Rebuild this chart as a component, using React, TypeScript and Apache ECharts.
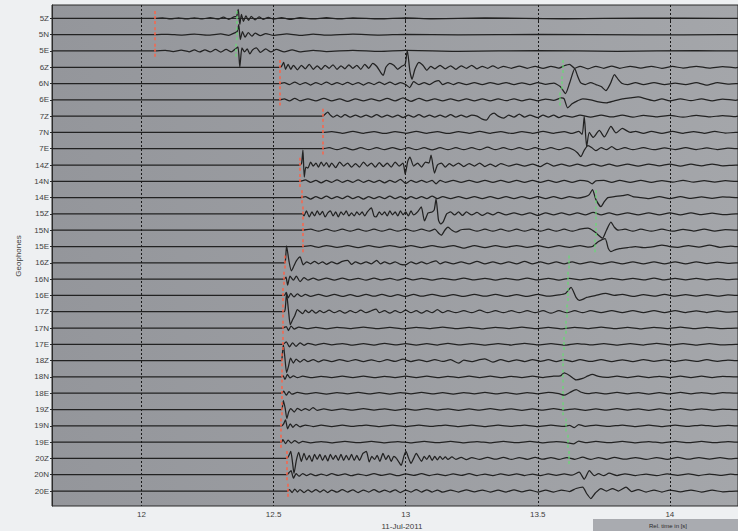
import React, { useEffect, useRef } from "react";
import * as echarts from "echarts";

const rowNames = ["5Z","5N","5E","6Z","6N","6E","7Z","7N","7E","14Z","14N","14E","15Z","15N","15E","16Z","16N","16E","17Z","17N","17E","18Z","18N","18E","19Z","19N","19E","20Z","20N","20E"];
const xTicks = [12, 12.5, 13, 13.5, 14];
const dateLabel = "11-Jul-2011";
const timeLabel = "Rel. time in [s]";
const yTitle = "Geophones";

const tr5Z = [[12.05,0],[12.08,0.5],[12.11,-0.5],[12.14,0.5],[12.17,-0.5],[12.2,0.6],[12.23,-0.6],[12.26,0.8],[12.29,-0.8],[12.31,1.2],[12.33,-1],[12.35,1.5],[12.36,2],[12.366,9],[12.372,-6],[12.378,4],[12.386,-3],[12.395,2.5],[12.405,-2],[12.415,2],[12.43,-1.5],[12.445,1.5],[12.46,-1],[12.48,1],[12.5,-0.8],[12.53,0.8],[12.56,-1],[12.6,0.7],[12.65,-0.6],[12.7,0.8],[12.75,-0.6],[12.8,0.5],[12.9,-0.5],[13.0,0.5],[13.1,-0.4],[13.3,0.4],[13.6,-0.4],[13.9,0.3],[14.2,0]];
const tr5N = [[12.05,0],[12.1,0.4],[12.15,-0.4],[12.2,0.5],[12.25,-0.5],[12.3,0.8],[12.33,-0.6],[12.35,1.5],[12.362,3],[12.368,10],[12.374,-5],[12.382,3],[12.392,-2.5],[12.404,2],[12.418,-1.5],[12.43,1.5],[12.45,-1],[12.47,1],[12.5,-0.7],[12.55,0.7],[12.6,-0.8],[12.65,0.6],[12.7,-0.5],[12.8,0.5],[12.9,-0.4],[13.0,0.4],[13.2,-0.3],[13.5,0.3],[13.9,-0.3],[14.2,0]];
const tr5E = [[12.05,0],[12.09,0.6],[12.12,-0.6],[12.15,0.8],[12.18,-0.8],[12.2,1],[12.22,-1],[12.24,1.2],[12.26,-1],[12.28,1.5],[12.3,-1.2],[12.32,1.5],[12.34,-1],[12.355,2],[12.365,4],[12.372,-16],[12.38,3],[12.39,-1],[12.4,2],[12.41,-3],[12.42,1],[12.435,3],[12.45,-1.5],[12.47,2],[12.49,-1],[12.51,1.5],[12.54,-1],[12.57,1],[12.6,-0.8],[12.65,0.7],[12.7,-0.6],[12.8,0.6],[12.9,-0.5],[13.0,0.5],[13.2,-0.4],[13.5,0.4],[13.8,-0.3],[14.1,0.3],[14.25,0]];
const tr6Z = [[12.523,0],[12.53,1],[12.538,5],[12.545,-2],[12.555,3],[12.565,-2],[12.575,2],[12.59,-2.5],[12.605,2],[12.62,-1.5],[12.635,3],[12.65,-2],[12.665,1.5],[12.68,-2],[12.695,2],[12.71,-1],[12.725,2.5],[12.74,-2],[12.755,1.5],[12.77,-1.5],[12.785,2.5],[12.8,-1],[12.815,2],[12.83,-2],[12.845,3],[12.86,-1],[12.875,4],[12.89,1],[12.905,-5],[12.915,-8],[12.925,0],[12.94,4],[12.955,2],[12.97,-2],[12.985,1],[12.998,3],[13.006,17],[13.016,-4],[13.024,-12],[13.035,-2],[13.05,5],[13.065,2],[13.08,-3],[13.095,1],[13.11,-1.5],[13.13,2],[13.15,-1.5],[13.17,1.5],[13.19,-2],[13.21,1.5],[13.23,-1],[13.25,2],[13.27,-1.5],[13.29,1],[13.31,-1],[13.33,1.5],[13.35,-1],[13.37,1],[13.4,-1],[13.43,1.2],[13.46,-1],[13.49,1],[13.52,-1.2],[13.55,1],[13.58,-0.8],[13.6,1.5],[13.62,3],[13.64,-1],[13.66,1],[13.69,-1.5],[13.72,1],[13.75,-1],[13.78,1.2],[13.81,-1],[13.85,1],[13.89,-0.8],[13.93,1],[13.97,-1],[14.01,0.8],[14.05,-0.8],[14.1,1],[14.15,-0.8],[14.2,0.6],[14.25,-0.5]];
const tr6N = [[12.523,0],[12.54,1],[12.56,-1],[12.58,1.5],[12.6,-1],[12.62,1],[12.64,-1.5],[12.66,1],[12.68,-1],[12.7,1.5],[12.72,-1],[12.74,1],[12.76,-1],[12.78,1.2],[12.8,-1],[12.82,1],[12.84,-1.5],[12.86,1],[12.88,-1],[12.9,1.5],[12.92,-1],[12.94,1.5],[12.96,-1],[12.98,1],[13.0,-1],[13.015,-4],[13.03,2],[13.05,-1],[13.07,1],[13.09,-1],[13.11,2],[13.125,3],[13.14,-1],[13.16,1],[13.18,-1],[13.2,1],[13.23,-1],[13.26,1],[13.29,-1],[13.32,1],[13.35,-0.8],[13.38,1],[13.41,-1],[13.44,0.8],[13.47,-1],[13.5,1],[13.53,-0.8],[13.56,0.5],[13.585,-3],[13.605,-10],[13.62,0],[13.64,15],[13.65,8],[13.662,1],[13.68,-1],[13.7,1],[13.72,-1],[13.74,-3],[13.758,-7],[13.775,0],[13.79,9],[13.805,4],[13.82,0],[13.84,-1],[13.87,1],[13.9,-1],[13.94,1],[13.98,-1],[14.02,0.5],[14.06,-1],[14.1,1],[14.14,-1.5],[14.18,1],[14.22,-0.5],[14.25,0]];
const tr6E = [[12.523,0],[12.54,1],[12.56,-1],[12.58,1.5],[12.6,-1],[12.63,1],[12.66,-1],[12.69,1.5],[12.72,-1],[12.75,1],[12.78,-1.5],[12.81,1],[12.84,-1],[12.87,1],[12.9,-1],[12.93,1.5],[12.96,-1],[12.99,2],[13.02,-1.5],[13.05,1.5],[13.08,-1],[13.11,1],[13.14,-1],[13.17,1],[13.2,-1],[13.23,1],[13.26,-1],[13.29,1],[13.32,-1],[13.35,1],[13.38,-0.8],[13.41,1],[13.44,-1],[13.47,0.8],[13.5,-1],[13.53,0.8],[13.56,-0.5],[13.59,2],[13.6,1],[13.613,-8],[13.63,-4],[13.65,-1],[13.67,1],[13.7,0],[13.73,-2],[13.76,-3],[13.79,-1],[13.82,1],[13.85,2],[13.88,3],[13.91,1],[13.94,-1],[13.97,1],[14.0,-1],[14.04,1],[14.08,-0.8],[14.12,1],[14.16,-1],[14.2,0.8],[14.25,-0.5]];
const tr7Z = [[12.685,0],[12.695,2],[12.705,4],[12.715,1],[12.725,-1],[12.74,1],[12.755,-1],[12.77,1.5],[12.79,-1],[12.81,1],[12.83,-1],[12.85,1],[12.87,-1],[12.89,1.5],[12.91,-1],[12.93,1],[12.95,-1],[12.97,1],[12.99,-1.5],[13.01,1],[13.03,-1],[13.05,1.5],[13.07,-1],[13.09,1],[13.11,-1],[13.13,1],[13.15,-1],[13.17,1.5],[13.19,-1],[13.21,1],[13.23,-1],[13.25,1],[13.27,0],[13.29,-3],[13.305,-4],[13.32,1],[13.335,3],[13.35,0],[13.37,-2],[13.39,1],[13.41,-1],[13.43,2],[13.45,-1],[13.47,1],[13.5,-1.5],[13.52,1],[13.54,-1],[13.56,1],[13.58,-1.5],[13.6,0.5],[13.63,-1],[13.66,1],[13.7,-1],[13.74,1],[13.78,-0.8],[13.82,1],[13.86,-1],[13.9,0.8],[13.95,-0.8],[14.0,0.8],[14.05,-1],[14.1,0.8],[14.15,-0.8],[14.2,0.6],[14.25,-0.5]];
const tr7N = [[12.685,0],[12.72,0.8],[12.76,-0.8],[12.8,1],[12.84,-0.8],[12.88,0.8],[12.92,-1],[12.96,0.8],[13.0,-0.8],[13.04,1],[13.08,-0.8],[13.12,0.8],[13.16,-1],[13.2,0.8],[13.24,-0.8],[13.28,1],[13.32,-0.8],[13.36,0.8],[13.4,-1],[13.44,0.8],[13.48,-0.8],[13.52,1],[13.56,-0.8],[13.6,0.8],[13.63,-1],[13.655,1],[13.668,-2],[13.676,16],[13.685,-14],[13.695,0],[13.71,-5],[13.733,2],[13.752,-4.5],[13.777,6],[13.796,-0.5],[13.82,4],[13.85,0],[13.87,1],[13.9,-1],[13.93,1],[13.97,-0.8],[14.01,1],[14.05,-0.8],[14.09,0.8],[14.13,-0.8],[14.17,1],[14.21,-0.6],[14.25,0]];
const tr7E = [[12.685,0],[12.71,1],[12.74,-1],[12.77,1],[12.8,-1.2],[12.83,1],[12.86,-1],[12.89,1],[12.92,-1],[12.95,1.2],[12.98,-1],[13.01,1],[13.04,-1],[13.07,1],[13.1,-1.2],[13.13,1],[13.16,-1],[13.19,1],[13.22,-1],[13.25,1],[13.28,-1],[13.31,1.5],[13.34,-1],[13.37,1],[13.4,-1],[13.43,1],[13.46,-1],[13.49,1],[13.52,-1],[13.55,1],[13.58,-1],[13.61,1],[13.635,-1],[13.65,-4],[13.663,-8],[13.675,-2],[13.69,3],[13.705,1],[13.72,-2],[13.74,1],[13.76,-1],[13.78,2],[13.8,-1],[13.83,1],[13.86,-1],[13.9,1],[13.94,-1],[13.98,0.8],[14.02,-0.8],[14.06,1],[14.1,-0.8],[14.14,0.8],[14.18,-0.8],[14.22,0.6],[14.25,0]];
const tr14Z = [[12.6,0],[12.606,2],[12.611,15],[12.616,-12],[12.622,-2],[12.63,-3],[12.64,3],[12.65,-1],[12.66,2],[12.67,-2],[12.68,3],[12.69,-1],[12.7,2.5],[12.71,-2],[12.72,2],[12.735,-2.5],[12.75,3],[12.765,-1],[12.78,2],[12.795,-2],[12.81,1.5],[12.825,-2],[12.84,3],[12.855,-1],[12.87,2],[12.885,-2],[12.9,2.5],[12.915,-1.5],[12.93,2],[12.945,-2],[12.96,3],[12.975,-1],[12.99,2],[12.998,-9],[13.008,4],[13.016,8],[13.03,-1],[13.045,2],[13.06,-2],[13.075,3],[13.088,2],[13.096,10],[13.109,-8],[13.12,0],[13.135,2],[13.15,-2],[13.165,1.5],[13.18,-1],[13.2,2],[13.22,-1.5],[13.24,1.5],[13.26,-1],[13.28,2],[13.3,-1.5],[13.32,1],[13.34,-1.5],[13.36,1.5],[13.39,-1],[13.42,1],[13.45,-1],[13.48,1],[13.51,-1.5],[13.535,2],[13.56,-1],[13.59,1],[13.62,-1],[13.65,1],[13.68,-1.2],[13.71,1],[13.74,-1],[13.77,1],[13.8,-1],[13.84,1],[13.88,-1],[13.92,1],[13.96,-0.8],[14.0,1],[14.04,-1],[14.08,0.8],[14.12,-0.8],[14.16,1],[14.2,-0.8],[14.25,0]];
const tr14N = [[12.6,0],[12.62,1.5],[12.64,-1],[12.66,1],[12.68,-1.5],[12.7,1],[12.72,-1],[12.74,1.5],[12.76,-1],[12.78,1],[12.8,-1],[12.82,1.5],[12.84,-1],[12.86,1],[12.88,-1],[12.9,1],[12.92,-1.5],[12.94,1],[12.96,-1],[12.98,2],[13.0,-2],[13.02,1],[13.04,-1],[13.06,1],[13.08,-1],[13.1,1],[13.115,-2.5],[13.13,1],[13.15,-1],[13.18,1],[13.21,-1],[13.24,1],[13.27,-1],[13.3,1],[13.33,-1],[13.36,1],[13.39,-1],[13.42,1],[13.45,-1],[13.48,1],[13.51,-1],[13.54,1],[13.57,-1],[13.6,1],[13.63,-1],[13.66,1],[13.69,0],[13.706,-2.5],[13.72,0.5],[13.75,1],[13.78,-1],[13.81,1],[13.85,-1],[13.89,1],[13.93,-1],[13.97,0.8],[14.01,-0.8],[14.05,1],[14.09,-0.8],[14.13,0.8],[14.17,-0.8],[14.21,0.6],[14.25,0]];
const tr14E = [[12.6,0],[12.62,1],[12.64,-1.5],[12.66,1],[12.68,-1],[12.7,1.5],[12.72,-1],[12.74,1],[12.76,-1],[12.78,1.5],[12.8,-1],[12.82,1],[12.84,-1.5],[12.86,1],[12.88,-1],[12.9,1],[12.92,-1],[12.94,1.5],[12.96,-1],[12.98,1],[13.0,-1.5],[13.02,1],[13.04,-1],[13.06,1],[13.08,-1],[13.1,1.5],[13.12,-1],[13.14,1],[13.17,-1],[13.2,1],[13.23,-1],[13.26,1],[13.29,-1],[13.32,1],[13.35,-1],[13.38,1],[13.41,-1],[13.44,1],[13.47,-1],[13.5,1],[13.53,-1],[13.56,1],[13.59,-1],[13.62,1],[13.65,-0.5],[13.68,1],[13.695,3],[13.707,8],[13.72,-2],[13.739,-9],[13.752,-4],[13.765,0],[13.79,1],[13.82,2],[13.84,3],[13.86,1],[13.89,0],[13.92,-1],[13.96,1],[14.0,-1],[14.04,1],[14.08,-0.8],[14.12,0.8],[14.16,-0.8],[14.2,0.8],[14.25,0]];
const tr15Z = [[12.61,0],[12.615,-2],[12.624,3],[12.635,-3],[12.645,2],[12.655,-2],[12.665,3],[12.675,-1],[12.685,2.5],[12.695,-3],[12.705,1],[12.715,3],[12.725,-2],[12.735,2],[12.745,-3],[12.755,2],[12.765,-1],[12.775,3],[12.785,-2],[12.795,1],[12.805,-2],[12.815,2],[12.825,-1],[12.835,2],[12.845,-2],[12.855,2],[12.87,6],[12.88,-2],[12.888,-3],[12.9,2],[12.91,-1],[12.92,2],[12.93,-2],[12.94,3],[12.95,-1],[12.96,2],[12.97,-2],[12.98,3],[12.99,-1],[13.0,2],[13.01,-2],[13.02,3],[13.03,-1],[13.045,2],[13.059,7],[13.071,-7],[13.085,1],[13.1,2],[13.108,4],[13.115,15],[13.124,-6],[13.132,-10],[13.142,-8],[13.155,0],[13.17,2],[13.185,-1],[13.2,2],[13.215,-1.5],[13.23,2],[13.25,-1],[13.27,1.5],[13.29,-1.5],[13.31,1],[13.33,-1],[13.35,1.5],[13.38,-1],[13.41,1],[13.44,-1],[13.47,1],[13.5,-1.5],[13.53,1],[13.56,-1],[13.59,1],[13.62,-1],[13.65,1],[13.68,-1],[13.71,1.5],[13.74,-1],[13.77,1],[13.8,-1],[13.84,1],[13.88,-1],[13.92,1],[13.96,-1],[14.0,1],[14.04,-1],[14.08,1],[14.12,-0.8],[14.16,0.8],[14.2,-0.8],[14.25,0]];
const tr15N = [[12.61,0],[12.64,1],[12.67,-1],[12.7,1],[12.73,-1],[12.76,1],[12.79,-1],[12.82,1],[12.85,-1],[12.88,1],[12.91,-1],[12.94,1],[12.97,-1],[13.0,1],[13.03,-1],[13.06,1],[13.09,-1],[13.11,1],[13.125,-3],[13.135,-5],[13.148,0],[13.16,3],[13.175,0],[13.19,-2],[13.21,0.5],[13.24,1],[13.27,-1],[13.3,1],[13.33,-1],[13.36,1],[13.39,-1],[13.42,1],[13.45,-1],[13.48,1],[13.51,-1],[13.54,1],[13.57,-1],[13.6,1],[13.63,-1],[13.66,1],[13.69,2],[13.715,-1.5],[13.73,-5],[13.745,-8],[13.76,0],[13.777,8],[13.79,3],[13.805,0],[13.83,1],[13.86,-1],[13.89,1],[13.93,-1],[13.97,1],[14.01,-1],[14.05,0.8],[14.09,-0.8],[14.13,1],[14.17,-0.8],[14.21,0.6],[14.25,0]];
const tr15E = [[12.61,0],[12.64,0.8],[12.67,-0.8],[12.7,1],[12.74,-0.8],[12.78,0.8],[12.82,-1],[12.86,0.8],[12.9,-0.8],[12.94,1],[12.98,-0.8],[13.02,0.8],[13.06,-1],[13.1,0.8],[13.14,-0.8],[13.18,1],[13.22,-1.5],[13.26,1],[13.3,-1],[13.34,0.8],[13.38,-0.8],[13.42,1],[13.46,-0.8],[13.5,0.8],[13.54,-1],[13.58,0.8],[13.62,-0.8],[13.66,1],[13.69,-0.5],[13.707,0],[13.73,5],[13.755,8],[13.767,-2],[13.777,-5],[13.795,-3],[13.81,-2],[13.84,-1],[13.87,0],[13.9,-1],[13.94,0],[13.97,1.5],[14.0,0],[14.03,-0.8],[14.07,1],[14.11,-0.5],[14.15,1.5],[14.19,-0.8],[14.23,0.5],[14.25,0]];
const tr16Z = [[12.542,0],[12.545,3],[12.549,17],[12.558,2],[12.567,-8],[12.577,-3],[12.586,2],[12.6,6],[12.612,-2],[12.625,1],[12.64,-1],[12.655,1.5],[12.67,-1],[12.685,1],[12.7,-1.5],[12.72,1],[12.74,-1],[12.76,1.5],[12.78,2.5],[12.795,-1.5],[12.81,1],[12.83,-1],[12.85,1],[12.87,-1],[12.89,2.5],[12.905,-1],[12.92,1],[12.94,-1],[12.96,1],[12.98,-1.5],[13.0,-2],[13.02,1],[13.04,-1],[13.06,1],[13.08,-1],[13.1,1],[13.115,2],[13.13,-1],[13.15,1],[13.18,-1],[13.21,1],[13.24,-1],[13.27,1.5],[13.3,-1],[13.33,1],[13.36,-1],[13.39,1],[13.42,-1],[13.45,1.5],[13.48,-1],[13.51,1],[13.54,-1],[13.57,1],[13.6,-1],[13.63,1],[13.66,-1],[13.7,1],[13.74,-1],[13.78,1],[13.82,-1],[13.86,1],[13.9,-1],[13.94,1],[13.98,-1],[14.02,1],[14.06,-1],[14.1,1],[14.14,-0.8],[14.18,0.8],[14.22,-0.6],[14.25,0]];
const tr16N = [[12.54,0],[12.547,2],[12.553,-6],[12.562,3],[12.575,-1],[12.586,3],[12.6,-2.5],[12.615,1.5],[12.63,-1],[12.65,1],[12.67,-1],[12.7,1],[12.73,-1],[12.76,1],[12.79,-0.8],[12.82,0.8],[12.85,-1],[12.88,1],[12.91,-0.8],[12.94,0.8],[12.97,-1],[13.0,1],[13.03,-0.8],[13.06,0.8],[13.1,-1],[13.14,0.8],[13.18,-0.8],[13.22,1],[13.26,-0.8],[13.3,0.8],[13.34,-1],[13.38,0.8],[13.42,-0.8],[13.46,1],[13.5,-0.8],[13.54,0.8],[13.58,-1],[13.62,0.8],[13.66,-0.8],[13.7,0.8],[13.74,-1],[13.78,0.8],[13.82,-0.8],[13.86,0.8],[13.9,-0.8],[13.94,1],[13.98,-0.8],[14.02,0.8],[14.06,-0.8],[14.1,0.8],[14.14,-0.8],[14.18,0.6],[14.22,-0.5],[14.25,0]];
const tr16E = [[12.54,0],[12.548,3],[12.555,-2.5],[12.565,2],[12.577,-1.5],[12.59,1.5],[12.605,-1],[12.62,1],[12.64,-1],[12.67,1],[12.7,-1],[12.73,1],[12.76,-1],[12.79,0.8],[12.82,-1],[12.85,1],[12.88,-0.8],[12.91,1],[12.94,-1],[12.97,0.8],[13.0,-1],[13.03,1],[13.06,-0.8],[13.1,1],[13.14,-1],[13.18,0.8],[13.22,-1],[13.26,1],[13.3,-0.8],[13.34,1],[13.38,-1],[13.42,0.8],[13.46,-1],[13.5,1],[13.54,-0.8],[13.58,0.5],[13.605,2],[13.626,8],[13.645,-2],[13.657,-5],[13.67,-4],[13.685,-2],[13.72,0],[13.757,2],[13.79,0],[13.82,1],[13.86,-1],[13.9,0.8],[13.94,-0.8],[13.98,1],[14.02,-0.8],[14.06,0.8],[14.1,-0.8],[14.14,0.8],[14.18,-0.8],[14.22,0.5],[14.25,0]];
const tr17Z = [[12.54,0],[12.544,3],[12.549,18],[12.556,2],[12.563,-13],[12.572,-8],[12.58,-4],[12.59,2],[12.6,0],[12.61,-2],[12.62,1.5],[12.633,-1],[12.645,1.5],[12.66,-1.5],[12.675,1],[12.69,-1],[12.71,1.5],[12.73,-1],[12.75,1],[12.77,-1.5],[12.79,1],[12.81,-1],[12.83,1.5],[12.85,-1],[12.87,1],[12.888,2.5],[12.9,-1],[12.92,1],[12.94,-1.5],[12.96,1],[12.98,-1],[13.0,1.5],[13.02,-1],[13.04,1],[13.06,-1.5],[13.08,1],[13.1,-1],[13.12,2],[13.14,-1],[13.16,1],[13.19,-1],[13.22,1],[13.25,-1],[13.28,1.5],[13.31,-1],[13.34,1],[13.37,-1],[13.4,1],[13.43,-1],[13.46,1],[13.49,-1],[13.52,1],[13.55,-1.5],[13.58,1],[13.61,-1],[13.64,1],[13.67,-1],[13.7,1],[13.74,-1],[13.78,1],[13.82,-1],[13.86,1],[13.9,-1],[13.94,1],[13.98,-0.8],[14.02,1],[14.06,-0.8],[14.1,0.8],[14.14,-0.8],[14.18,0.8],[14.22,-0.5],[14.25,0]];
const tr17N = [[12.535,0],[12.548,1.5],[12.556,-2.5],[12.566,2],[12.578,-1],[12.595,0.9],[12.625,-0.7],[12.66,0.6],[12.7,-0.8],[12.74,0.7],[12.79,-0.6],[12.84,0.9],[12.89,-0.7],[12.94,0.6],[12.99,-0.8],[13.04,0.7],[13.09,-0.6],[13.14,0.8],[13.19,-0.7],[13.24,0.6],[13.29,-0.9],[13.34,0.7],[13.39,-0.6],[13.44,0.8],[13.49,-0.7],[13.54,0.6],[13.59,-0.8],[13.64,0.7],[13.69,-0.6],[13.74,0.8],[13.79,-0.7],[13.84,0.6],[13.89,-0.8],[13.94,0.7],[13.99,-0.6],[14.04,0.8],[14.09,-0.7],[14.14,0.6],[14.19,-0.5],[14.25,0]];
const tr17E = [[12.535,0],[12.548,2.5],[12.56,-2.5],[12.572,1.5],[12.585,-2],[12.6,1.5],[12.615,-1],[12.63,1],[12.66,-0.7],[12.69,0.9],[12.72,-0.6],[12.76,0.8],[12.8,-0.9],[12.84,0.6],[12.88,-0.7],[12.92,1],[12.96,-0.6],[13.0,0.7],[13.04,-0.9],[13.08,0.6],[13.12,-0.7],[13.16,0.9],[13.2,-0.6],[13.25,0.7],[13.3,-0.8],[13.35,0.6],[13.4,-0.7],[13.45,0.9],[13.5,-0.6],[13.55,0.7],[13.6,-0.9],[13.65,0.8],[13.7,-0.6],[13.75,0.7],[13.8,-0.8],[13.85,0.6],[13.9,-0.7],[13.95,0.9],[14.0,-0.6],[14.05,0.7],[14.1,-0.8],[14.15,0.6],[14.2,-0.5],[14.25,0]];
const tr18Z = [[12.53,0],[12.532,3],[12.537,16],[12.543,2],[12.549,-12],[12.556,-6],[12.564,2.5],[12.575,-2.5],[12.585,1.5],[12.6,-1.5],[12.615,1.2],[12.63,-1],[12.65,1],[12.67,-1.2],[12.69,0.8],[12.72,-1],[12.75,1.1],[12.78,-0.8],[12.81,1],[12.84,-1],[12.87,0.8],[12.9,-1.1],[12.93,0.9],[12.96,-0.8],[12.99,1.5],[13.02,-0.9],[13.05,0.8],[13.08,-1],[13.11,1],[13.14,-0.8],[13.17,0.9],[13.2,-2.5],[13.22,0.5],[13.25,-1],[13.28,0.9],[13.3,1.8],[13.33,-1.6],[13.36,1],[13.39,-1],[13.42,0.8],[13.45,-0.9],[13.48,1],[13.51,-0.7],[13.54,0.9],[13.57,-1],[13.6,0.8],[13.63,-0.9],[13.66,1],[13.7,-0.8],[13.74,0.9],[13.78,-1],[13.82,0.8],[13.86,-0.9],[13.9,1],[13.94,-0.7],[13.98,0.8],[14.02,-0.9],[14.06,0.7],[14.1,-0.8],[14.14,0.9],[14.18,-0.7],[14.22,0.6],[14.25,0]];
const tr18N = [[12.53,0],[12.536,1],[12.543,-2.5],[12.552,2.5],[12.562,-1],[12.575,1],[12.59,-0.8],[12.61,0.7],[12.64,-0.8],[12.68,0.6],[12.72,-0.7],[12.76,0.8],[12.8,-0.6],[12.84,0.7],[12.88,-0.8],[12.92,0.6],[12.96,-0.7],[13.0,0.8],[13.04,-0.6],[13.08,0.7],[13.12,-0.8],[13.16,0.6],[13.2,-0.7],[13.24,0.8],[13.28,-0.6],[13.32,0.7],[13.36,-0.8],[13.4,0.6],[13.44,-0.7],[13.48,0.8],[13.52,-0.6],[13.56,0.7],[13.585,1],[13.6,4],[13.62,1.5],[13.645,-3],[13.67,-1.5],[13.69,1],[13.707,2.5],[13.73,0.5],[13.76,-0.5],[13.8,0.7],[13.84,-0.6],[13.88,0.8],[13.92,-0.7],[13.96,0.6],[14.0,-0.7],[14.04,0.8],[14.08,-0.6],[14.12,0.7],[14.16,-0.6],[14.2,0.5],[14.25,0]];
const tr18E = [[12.53,0],[12.538,2],[12.548,-2],[12.558,1.5],[12.57,-1],[12.59,0.8],[12.62,-0.7],[12.66,0.6],[12.7,-0.8],[12.74,0.7],[12.78,-0.6],[12.82,0.8],[12.86,-0.7],[12.9,0.6],[12.94,-0.8],[12.98,0.7],[13.02,-0.6],[13.06,0.8],[13.1,-0.7],[13.14,0.6],[13.18,-0.8],[13.22,0.7],[13.26,-0.6],[13.3,0.8],[13.34,-0.7],[13.38,0.6],[13.42,-0.8],[13.46,0.7],[13.5,-0.6],[13.54,0.8],[13.58,-0.5],[13.6,-2],[13.62,0.5],[13.645,3.5],[13.665,1],[13.69,-0.5],[13.72,0.6],[13.76,-0.7],[13.8,0.8],[13.84,-0.6],[13.88,0.7],[13.92,-0.8],[13.96,0.6],[14.0,-0.7],[14.04,0.8],[14.08,-0.6],[14.12,0.7],[14.16,-0.6],[14.2,0.5],[14.25,0]];
const tr19Z = [[12.53,0],[12.533,2],[12.537,9],[12.544,1],[12.55,-9],[12.557,-2.5],[12.565,1],[12.578,-2.5],[12.59,1.2],[12.605,-1],[12.62,1],[12.635,-0.8],[12.649,2],[12.665,-0.8],[12.69,0.7],[12.72,-0.9],[12.76,0.6],[12.8,-0.7],[12.84,0.8],[12.88,-0.6],[12.92,0.7],[12.96,-0.8],[13.0,0.6],[13.04,-0.7],[13.08,0.8],[13.12,-0.6],[13.16,0.7],[13.2,-0.8],[13.24,0.6],[13.28,-0.7],[13.32,0.8],[13.36,-0.6],[13.4,0.7],[13.44,-0.8],[13.48,0.6],[13.52,-0.7],[13.56,0.8],[13.6,-0.6],[13.64,0.7],[13.68,-0.8],[13.72,0.6],[13.76,-0.7],[13.8,0.8],[13.84,-0.6],[13.88,0.7],[13.92,-0.8],[13.96,0.6],[14.0,-0.7],[14.04,0.8],[14.08,-0.6],[14.12,0.7],[14.16,-0.6],[14.2,0.5],[14.25,0]];
const tr19N = [[12.53,0],[12.538,2],[12.545,6],[12.553,-3],[12.563,2],[12.573,-1.5],[12.585,1.5],[12.6,-1],[12.62,0.8],[12.65,-0.7],[12.68,0.6],[12.72,-0.8],[12.76,0.7],[12.8,-0.6],[12.85,0.8],[12.9,-0.7],[12.95,0.6],[13.0,-0.8],[13.05,0.7],[13.1,-0.6],[13.15,0.8],[13.2,-0.7],[13.25,0.6],[13.3,-0.8],[13.35,0.7],[13.4,-0.6],[13.45,0.8],[13.5,-0.7],[13.55,0.6],[13.6,-0.5],[13.62,0.5],[13.638,-1.8],[13.655,1.2],[13.68,-0.5],[13.72,0.7],[13.77,-0.6],[13.82,0.8],[13.87,-0.7],[13.92,0.6],[13.97,-0.8],[14.02,0.7],[14.07,-0.6],[14.12,0.8],[14.17,-0.6],[14.22,0.5],[14.25,0]];
const tr19E = [[12.53,0],[12.535,2.5],[12.545,-1.5],[12.555,2],[12.567,-1],[12.58,1.5],[12.595,-1],[12.61,0.8],[12.64,-0.7],[12.68,0.6],[12.72,-0.8],[12.77,0.7],[12.82,-0.6],[12.87,0.8],[12.92,-0.7],[12.97,0.6],[13.02,-0.8],[13.07,0.7],[13.12,-0.6],[13.17,0.8],[13.22,-0.7],[13.27,0.6],[13.32,-0.8],[13.37,0.7],[13.42,-0.6],[13.47,0.8],[13.52,-0.7],[13.57,0.6],[13.61,-0.5],[13.635,-1.8],[13.655,1],[13.68,-0.5],[13.72,0.7],[13.77,-0.6],[13.82,0.8],[13.87,-0.7],[13.92,0.6],[13.97,-0.8],[14.02,0.7],[14.07,-0.6],[14.12,0.8],[14.17,-0.6],[14.22,0.5],[14.25,0]];
const tr20Z = [[12.55,0],[12.558,3],[12.565,7],[12.572,-5],[12.577,-15],[12.586,-2],[12.595,6],[12.605,-3],[12.615,5],[12.625,-1.5],[12.635,3],[12.645,-3],[12.655,4],[12.665,-1],[12.675,4],[12.685,-2],[12.695,3],[12.705,-2.5],[12.715,4],[12.725,-1],[12.735,3],[12.745,-2],[12.755,4],[12.765,-2],[12.775,3],[12.785,-1.5],[12.795,4],[12.805,-2],[12.815,3],[12.825,-2],[12.838,5],[12.851,7],[12.862,-3.5],[12.872,2],[12.882,-1],[12.892,3],[12.902,-3],[12.914,5],[12.925,-1],[12.935,3],[12.945,-3],[12.955,2],[12.965,0],[12.975,-4],[12.983,-7],[12.993,2],[13.001,7],[13.01,1],[13.02,-5],[13.03,0],[13.04,5],[13.05,1],[13.06,-3],[13.07,2],[13.08,-1],[13.09,3],[13.1,-2],[13.11,2],[13.12,-1.5],[13.13,2],[13.14,-1],[13.15,1.5],[13.16,-1],[13.175,1.5],[13.19,-1],[13.21,1],[13.23,-1.2],[13.25,0.8],[13.28,-1],[13.31,1],[13.34,-0.8],[13.37,1],[13.4,-1],[13.43,0.8],[13.46,-0.9],[13.49,1],[13.52,-0.8],[13.55,0.9],[13.58,-1],[13.61,0.8],[13.64,-0.9],[13.67,1.2],[13.7,-1],[13.73,0.8],[13.76,-0.9],[13.79,1],[13.83,-0.8],[13.87,0.9],[13.91,-1],[13.95,0.8],[13.99,-0.9],[14.03,1],[14.07,-0.8],[14.11,0.9],[14.15,-0.7],[14.19,0.8],[14.23,-0.5],[14.25,0]];
const tr20N = [[12.55,0],[12.558,2],[12.566,4],[12.575,-3.5],[12.585,1],[12.597,-1.5],[12.61,1.2],[12.625,-1],[12.64,0.8],[12.66,-1],[12.68,0.7],[12.7,-0.8],[12.72,1],[12.745,-0.7],[12.77,0.8],[12.795,-1],[12.82,0.7],[12.85,-0.8],[12.88,1],[12.91,-0.7],[12.94,0.8],[12.97,-1],[13.0,0.8],[13.03,-0.7],[13.06,1],[13.09,-0.8],[13.12,0.7],[13.15,-0.9],[13.18,0.8],[13.21,-0.7],[13.24,1],[13.27,-0.8],[13.3,0.7],[13.33,-0.9],[13.36,0.8],[13.39,-0.7],[13.42,0.9],[13.45,-0.8],[13.48,0.7],[13.51,-0.9],[13.54,0.8],[13.57,-0.7],[13.6,0.9],[13.63,-0.5],[13.657,2.5],[13.676,-4.5],[13.695,4],[13.714,-1],[13.73,1],[13.75,-1],[13.77,1.5],[13.8,-0.8],[13.83,0.9],[13.87,-0.8],[13.91,0.7],[13.95,-0.9],[13.99,0.8],[14.03,-0.7],[14.07,0.9],[14.11,-0.8],[14.15,0.7],[14.19,-0.6],[14.23,0.5],[14.25,0]];
const tr20E = [[12.552,0],[12.56,1.5],[12.57,-1.5],[12.58,2],[12.59,-1],[12.6,1.5],[12.615,-1.5],[12.63,1.2],[12.645,-1],[12.66,1.5],[12.675,-1],[12.69,1.2],[12.705,-1.5],[12.72,1],[12.74,-1.2],[12.76,1.5],[12.78,-1],[12.8,1.2],[12.82,-1.5],[12.84,1],[12.86,-1],[12.88,1.5],[12.9,-1.2],[12.92,1],[12.94,-1],[12.96,1.2],[12.98,-1.5],[13.0,1],[13.02,-1],[13.04,1.5],[13.06,-1],[13.08,1.2],[13.1,-1],[13.12,1],[13.14,-1.2],[13.17,1],[13.2,-1],[13.23,1.2],[13.26,-0.8],[13.29,1],[13.32,-1],[13.35,0.8],[13.38,-1],[13.41,1.2],[13.44,-0.8],[13.47,1],[13.5,-1],[13.53,0.8],[13.56,-1],[13.59,1],[13.62,-0.5],[13.645,2.5],[13.67,4],[13.685,-2.5],[13.701,-7.5],[13.718,-2],[13.739,2.5],[13.76,0],[13.783,2.5],[13.805,0],[13.834,4],[13.855,-0.5],[13.88,1.5],[13.91,-1],[13.94,1],[13.97,-1],[14.0,1],[14.04,-0.8],[14.08,1],[14.12,-1],[14.16,0.8],[14.2,-0.8],[14.25,0]];

const traces = [tr5Z,tr5N,tr5E,tr6Z,tr6N,tr6E,tr7Z,tr7N,tr7E,tr14Z,tr14N,tr14E,tr15Z,tr15N,tr15E,tr16Z,tr16N,tr16E,tr17Z,tr17N,tr17E,tr18Z,tr18N,tr18E,tr19Z,tr19N,tr19E,tr20Z,tr20N,tr20E];

// P (red) and S (green) picks: [geophone, time]
const pPicks: [string, number][] = [["5Z",12.05],["5N",12.05],["5E",12.05],["6Z",12.523],["6N",12.523],["6E",12.523],["7Z",12.685],["7N",12.685],["7E",12.685],["14Z",12.6],["14N",12.6],["14E",12.605],["15Z",12.61],["15N",12.61],["15E",12.612],["16Z",12.542],["16N",12.537],["16E",12.536],["17Z",12.535],["17N",12.535],["17E",12.533],["18Z",12.53],["18N",12.53],["18E",12.53],["19Z",12.53],["19N",12.526],["19E",12.526],["20Z",12.55],["20N",12.55],["20E",12.552]];
const sPicks: [string, number][] = [["5Z",12.36],["5N",12.36],["5E",12.355],["6Z",13.595],["6N",13.59],["6E",13.585],["14E",13.72],["15Z",13.72],["15N",13.72],["15E",13.715],["16Z",13.619],["16N",13.615],["16E",13.612],["17Z",13.608],["17N",13.605],["17E",13.6],["18Z",13.596],["18N",13.594],["18E",13.594],["19Z",13.596],["19N",13.605],["19E",13.615],["20Z",13.619]];

const X_MIN = 11.661;
const X_MAX = 14.258;
const ROW_STEP = 10;
const AMP_SCALE = 10 / 16.3;
const FONT = "'Liberation Sans', Arial, sans-serif";

export default function App() {
  const ref = useRef<HTMLDivElement>(null);
  useEffect(() => {
    const chart = echarts.init(ref.current!, null, { renderer: "svg" });
    const rowValues = rowNames.map((_, i) => i * ROW_STEP);
    const traceSeries: any[] = traces.map((tr, i) => ({
      type: "line",
      data: [[X_MIN, i * ROW_STEP], ...tr.map(([t, a]) => [t, i * ROW_STEP - a * AMP_SCALE]), [X_MAX, i * ROW_STEP]],
      showSymbol: false,
      symbol: "none",
      silent: true,
      smooth: 0.2,
      z: 3,
      lineStyle: { color: "#222222", width: 1.25 },
    }));
    traceSeries[0].markLine = {
      silent: true,
      symbol: ["none", "none"],
      label: { show: false },
      lineStyle: { color: "#1a1a1a", type: [2, 2], width: 1 },
      data: xTicks.map((v) => ({ xAxis: v })),
    };
    const pickSeries = (picks: [string, number][], color: string, opacity: number) => ({
      type: "lines",
      coordinateSystem: "cartesian2d",
      silent: true,
      z: 4,
      lineStyle: { color, width: 1.6, type: [3, 2], opacity },
      data: picks.map(([name, t]) => {
        const r = rowNames.indexOf(name) * ROW_STEP;
        return { coords: [[t, r - 4.5], [t, r + 4.5]] };
      }),
    });
    chart.setOption({
      animation: false,
      backgroundColor: "#eef0f2",
      textStyle: { fontFamily: FONT },
      grid: {
        left: 52, top: 5, right: -1, bottom: 25,
        show: true,
        borderColor: "#2a2a2a",
        borderWidth: 1,
        backgroundColor: {
          type: "linear", x: 0, y: 0, x2: 1, y2: 0,
          colorStops: [{ offset: 0, color: "#94969b" }, { offset: 1, color: "#a4a6aa" }],
        },
      },
      xAxis: {
        type: "value",
        min: X_MIN,
        max: X_MAX,
        axisLine: { show: true, lineStyle: { color: "#2a2a2a" } },
        axisTick: { show: true, customValues: xTicks, length: 3, lineStyle: { color: "#2a2a2a" } },
        axisLabel: { customValues: xTicks, fontSize: 8, color: "#3c3c3c", margin: 4, fontFamily: FONT },
        splitLine: { show: false },
      },
      yAxis: {
        type: "value",
        inverse: true,
        min: -8.2,
        max: 299.2,
        axisLine: { show: true, lineStyle: { color: "#2a2a2a" } },
        axisTick: { show: true, customValues: rowValues, length: 2, lineStyle: { color: "#2a2a2a" } },
        axisLabel: {
          customValues: rowValues,
          fontSize: 8,
          color: "#404040",
          margin: 3,
          fontFamily: FONT,
          formatter: (v: number) => rowNames[Math.round(v / ROW_STEP)] ?? "",
        },
        splitLine: { show: false },
      },
      graphic: [
        { type: "text", x: 18, y: 256, rotation: Math.PI / 2, style: { text: yTitle, fontSize: 8, fill: "#404040", align: "center", verticalAlign: "middle", fontFamily: FONT } },
        { type: "text", x: 402, y: 526, style: { text: dateLabel, fontSize: 8, fill: "#3c3c3c", align: "center", verticalAlign: "middle", fontFamily: FONT } },
        { type: "rect", x: 593, y: 519, shape: { x: 0, y: 0, width: 146, height: 12 }, style: { fill: "#a9abb0" } },
        { type: "text", x: 668, y: 525.5, style: { text: timeLabel, fontSize: 6, fill: "#2a2a2a", align: "center", verticalAlign: "middle", fontFamily: FONT } },
      ],
      series: [...traceSeries, pickSeries(pPicks, "#ff6246", 0.9), pickSeries(sPicks, "#66dc72", 0.75)],
    });
    return () => chart.dispose();
  }, []);
  return <div ref={ref} style={{ position: "absolute", left: 0, top: 0, width: 738, height: 531 }} />;
}
